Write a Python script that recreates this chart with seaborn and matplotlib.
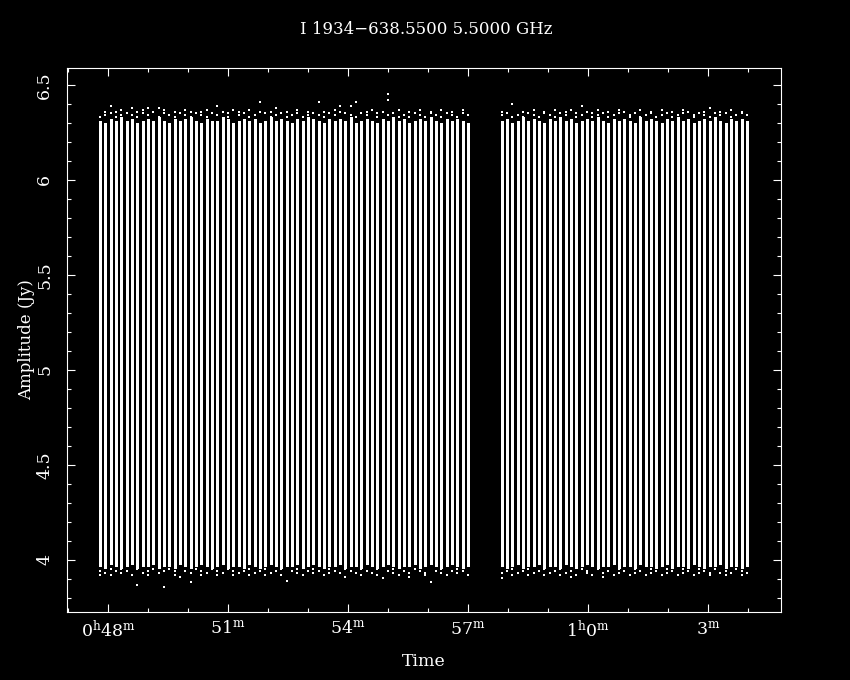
import numpy as np
import pandas as pd
import matplotlib
matplotlib.use("Agg")
import matplotlib.pyplot as plt
from matplotlib.ticker import MultipleLocator
import seaborn as sns

# scan layout (two blocks of 8 s integrations, minutes after 0h)
seg_start = [47.80, 57.84]
seg_len = [70, 47]
step_s = 8.0

# solid part of each scan bar (Jy)
top_a = [6.31, 6.30, 6.32, 6.31, 6.33, 6.31, 6.32, 6.30, 6.31, 6.32,
         6.31, 6.33, 6.31, 6.30, 6.32, 6.31, 6.32, 6.33, 6.31, 6.30,
         6.32, 6.31, 6.31, 6.33, 6.32, 6.30, 6.31, 6.32, 6.31, 6.32,
         6.30, 6.31, 6.33, 6.31, 6.32, 6.31, 6.30, 6.32, 6.31, 6.33,
         6.32, 6.31, 6.30, 6.32, 6.31, 6.32, 6.31, 6.33, 6.30, 6.31,
         6.32, 6.31, 6.30, 6.32, 6.31, 6.33, 6.31, 6.32, 6.30, 6.31,
         6.32, 6.31, 6.33, 6.31, 6.30, 6.32, 6.31, 6.32, 6.31, 6.30]
bot_a = [3.97, 3.96, 3.98, 3.97, 3.96, 3.97, 3.98, 3.96, 3.97, 3.97,
         3.98, 3.96, 3.97, 3.97, 3.96, 3.98, 3.97, 3.96, 3.97, 3.98,
         3.97, 3.96, 3.97, 3.98, 3.96, 3.97, 3.97, 3.96, 3.98, 3.97,
         3.96, 3.97, 3.98, 3.97, 3.96, 3.97, 3.97, 3.98, 3.96, 3.97,
         3.98, 3.97, 3.96, 3.97, 3.97, 3.98, 3.96, 3.97, 3.97, 3.96,
         3.98, 3.97, 3.96, 3.97, 3.98, 3.97, 3.96, 3.97, 3.97, 3.98,
         3.96, 3.97, 3.98, 3.97, 3.96, 3.97, 3.98, 3.97, 3.96, 3.97]
top_b = [6.31, 6.32, 6.30, 6.31, 6.33, 6.31, 6.32, 6.31, 6.30, 6.32,
         6.31, 6.33, 6.31, 6.32, 6.30, 6.31, 6.32, 6.31, 6.33, 6.31,
         6.30, 6.32, 6.31, 6.32, 6.31, 6.30, 6.33, 6.31, 6.32, 6.31,
         6.30, 6.32, 6.31, 6.33, 6.31, 6.32, 6.30, 6.31, 6.32, 6.31,
         6.33, 6.31, 6.30, 6.32, 6.31, 6.32, 6.31]
bot_b = [3.97, 3.96, 3.97, 3.98, 3.96, 3.97, 3.97, 3.98, 3.96, 3.97,
         3.97, 3.96, 3.98, 3.97, 3.96, 3.97, 3.98, 3.97, 3.96, 3.97,
         3.97, 3.98, 3.96, 3.97, 3.97, 3.96, 3.98, 3.97, 3.97, 3.96,
         3.97, 3.98, 3.96, 3.97, 3.97, 3.96, 3.98, 3.97, 3.96, 3.97,
         3.97, 3.98, 3.96, 3.97, 3.97, 3.96, 3.97]

# loose points above / below each bar
up_a = [[6.33], [6.34, 6.36], [6.35, 6.39], [6.33, 6.36], [6.34, 6.37],
        [6.35], [6.34, 6.38], [6.33, 6.36], [6.35, 6.37], [6.34, 6.38],
        [6.36], [6.33, 6.38], [6.35, 6.37], [6.34], [6.33, 6.36],
        [6.35], [6.34, 6.37], [6.36, 6.33], [6.35], [6.34, 6.36],
        [6.33, 6.37], [6.35], [6.34, 6.39], [6.36], [6.33, 6.35],
        [6.37], [6.34, 6.36], [6.35], [6.33, 6.37], [6.34],
        [6.36, 6.41], [6.35], [6.33, 6.36], [6.34, 6.38], [6.35],
        [6.33, 6.36], [6.34], [6.35, 6.37], [6.33], [6.34, 6.36],
        [6.35], [6.34, 6.41], [6.33, 6.36], [6.35], [6.34, 6.37],
        [6.36, 6.39], [6.35], [6.34, 6.39], [6.33, 6.41], [6.35],
        [6.34, 6.36], [6.37], [6.33, 6.35], [6.36], [6.34, 6.42, 6.45],
        [6.35], [6.33, 6.37], [6.34], [6.36, 6.33], [6.35],
        [6.34, 6.37], [6.33], [6.35, 6.36], [6.34], [6.33, 6.37],
        [6.35], [6.34, 6.36], [6.33], [6.35, 6.37], [6.34]]
lo_a = [[3.94, 3.92], [3.93], [3.95, 3.92], [3.94], [3.93, 3.95],
        [3.94], [3.92], [3.95, 3.87], [3.93], [3.94, 3.92],
        [3.95], [3.93], [3.94, 3.86], [3.95], [3.92, 3.94],
        [3.91], [3.94], [3.93, 3.885], [3.95], [3.94, 3.92],
        [3.93], [3.95], [3.94, 3.92], [3.93], [3.95],
        [3.92, 3.94], [3.93], [3.94], [3.95, 3.92], [3.93],
        [3.94], [3.92, 3.95], [3.93], [3.94], [3.95, 3.92],
        [3.89], [3.94], [3.93, 3.95], [3.92], [3.94],
        [3.93, 3.95], [3.94], [3.92], [3.95, 3.93], [3.94],
        [3.93], [3.95, 3.91], [3.94], [3.93], [3.92, 3.95],
        [3.94], [3.93], [3.95, 3.92], [3.905], [3.94],
        [3.93, 3.95], [3.92], [3.94], [3.93, 3.91], [3.95],
        [3.94], [3.92, 3.93], [3.885], [3.94], [3.93, 3.95],
        [3.92], [3.94], [3.93, 3.95], [3.94], [3.92]]
up_b = [[6.34, 6.36], [6.35], [6.33, 6.40], [6.34], [6.36, 6.33],
        [6.35], [6.34, 6.37], [6.33], [6.35, 6.36], [6.34],
        [6.33, 6.37], [6.35], [6.34, 6.36], [6.37], [6.33, 6.35],
        [6.34, 6.39], [6.36], [6.35, 6.33], [6.34, 6.37], [6.35],
        [6.33, 6.36], [6.34], [6.35, 6.37], [6.36], [6.34, 6.33],
        [6.35], [6.33, 6.37], [6.34], [6.36, 6.35], [6.33],
        [6.34, 6.37], [6.35], [6.33, 6.36], [6.34], [6.35, 6.37],
        [6.36], [6.33, 6.34], [6.35], [6.34, 6.36], [6.33, 6.38],
        [6.35], [6.34, 6.36], [6.35], [6.33, 6.37], [6.34],
        [6.36, 6.35], [6.34]]
lo_b = [[3.93, 3.905], [3.94], [3.92, 3.95], [3.93], [3.94],
        [3.95, 3.92], [3.93], [3.94], [3.92, 3.95], [3.93],
        [3.94], [3.95, 3.92], [3.93], [3.94, 3.91], [3.92],
        [3.95], [3.93, 3.94], [3.92], [3.95], [3.93, 3.91],
        [3.94], [3.92], [3.95, 3.93], [3.94], [3.92],
        [3.93, 3.95], [3.94], [3.92], [3.95, 3.93], [3.94],
        [3.92], [3.93, 3.95], [3.94], [3.92], [3.93, 3.95],
        [3.94], [3.92], [3.95, 3.93], [3.94], [3.92, 3.93],
        [3.95], [3.93], [3.94, 3.92], [3.93], [3.95],
        [3.92, 3.94], [3.93]]

xtick_pos = [48, 51, 54, 57, 60, 63]
xtick_lab = [r"$0^{\mathrm{h}}48^{\mathrm{m}}$", r"$51^{\mathrm{m}}$",
             r"$54^{\mathrm{m}}$", r"$57^{\mathrm{m}}$",
             r"$1^{\mathrm{h}}0^{\mathrm{m}}$", r"$3^{\mathrm{m}}$"]
ytick_pos = [4, 4.5, 5, 5.5, 6, 6.5]
ytick_lab = ["4", "4.5", "5", "5.5", "6", "6.5"]

# build tables
times = []
for t0, n in zip(seg_start, seg_len):
    times += list(t0 + np.arange(n) * step_s / 60.0)
scans = pd.DataFrame({"t": times, "top": top_a + top_b, "bot": bot_a + bot_b})

rows = []
for t, ups, los in zip(times, up_a + up_b, lo_a + lo_b):
    for v in ups + los:
        rows.append((t, v))
dots = pd.DataFrame(rows, columns=["t", "amp"])

sns.set_style("ticks")
plt.rcParams["font.family"] = ["DejaVu Serif"]
plt.rcParams["mathtext.fontset"] = "dejavuserif"
fg = "white"

fig = plt.figure(figsize=(8.5, 6.8), dpi=100, facecolor="black")
ax = fig.add_axes([67 / 850, 1 - 612 / 680, 714 / 850, 544 / 680])
ax.set_facecolor("black")

ax.vlines(scans["t"], scans["bot"], scans["top"], colors=fg,
          linewidth=1.9, antialiased=False)
sns.scatterplot(data=dots, x="t", y="amp", marker="s", s=2.5, color=fg,
                linewidth=0, ax=ax)

ax.set_xlim(46.975, 64.825)
ax.set_ylim(3.726, 6.589)

ax.set_xticks(xtick_pos)
ax.set_xticklabels(xtick_lab)
ax.xaxis.set_minor_locator(MultipleLocator(1))
ax.set_yticks(ytick_pos)
ax.set_yticklabels(ytick_lab, rotation=90, va="center")
ax.yaxis.set_minor_locator(MultipleLocator(0.1))

ax.tick_params(which="both", direction="in", colors=fg, top=True,
               right=True, labelsize=12.5, width=0.8)
ax.tick_params(which="major", length=6)
ax.tick_params(which="minor", length=3)
ax.tick_params(axis="x", pad=6)
ax.tick_params(axis="y", pad=10)
for sp in ax.spines.values():
    sp.set_color(fg)
    sp.set_linewidth(0.8)

ax.set_xlabel("")
ax.set_ylabel("")
fig.text(424 / 850, 1 - 661 / 680, "Time", color=fg, fontsize=12.5,
         ha="center", va="center")
fig.text(27 / 850, 1 - 340 / 680, "Amplitude (Jy)", color=fg, fontsize=12,
         ha="center", va="center", rotation=90)
fig.text(426 / 850, 1 - 30 / 680, "I 1934\u2212638.5500 5.5000 GHz",
         color=fg, fontsize=12, ha="center", va="center")

fig.savefig("out.png", dpi=100, facecolor="black")
